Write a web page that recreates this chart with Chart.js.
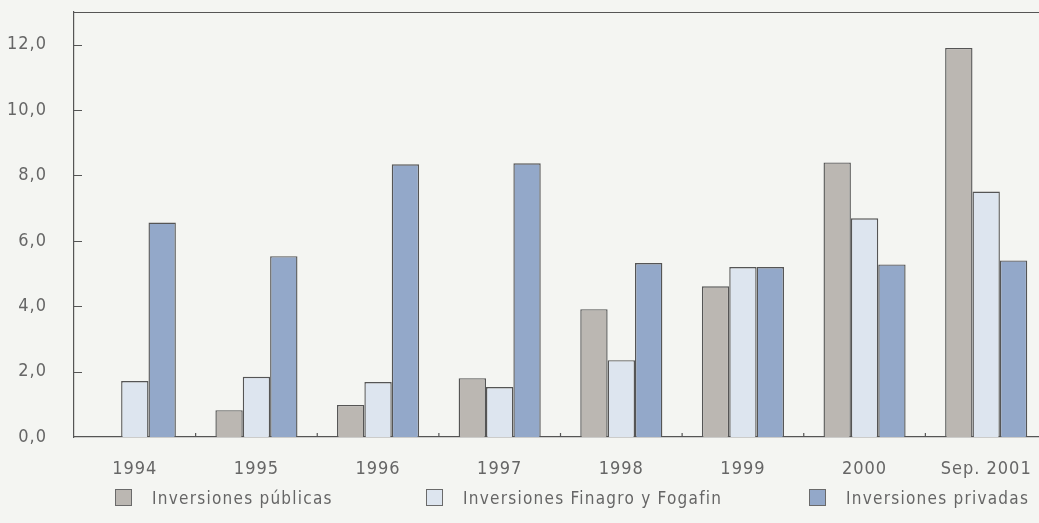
<!DOCTYPE html>
<html lang="es">

<head>
  <meta charset="UTF-8">
  <title>Inversiones</title>
  <script src="https://cdn.jsdelivr.net/npm/chart.js"></script>
  <style>
    body {
      margin: 0;
      background-color: #f4f5f2;
      overflow: hidden;
    }

    .chart-container {
      position: relative;
      width: 1047px;
      height: 523px;
    }

    /* leyenda hecha a mano, abajo */
    .legend-item {
      position: absolute;
      top: 488px;
      font-family: "DejaVu Sans Condensed", "DejaVu Sans", sans-serif;
      font-size: 17px;
      letter-spacing: 1.25px;
      color: #666;
      white-space: nowrap;
    }

    .legend-box {
      display: inline-block;
      width: 15px;
      height: 15px;
      border: 1px solid #6a6a6a;
      vertical-align: -2px;
      margin-right: 20px;
    }
  </style>
</head>

<body>
  <div class="chart-container">
    <canvas id="invChart" width="1047" height="523"></canvas>
    <div class="legend-item" style="left:115px"><span class="legend-box" id="lb0"></span><span id="lt0"></span></div>
    <div class="legend-item" style="left:426px"><span class="legend-box" id="lb1"></span><span id="lt1"></span></div>
    <div class="legend-item" style="left:809px"><span class="legend-box" id="lb2"></span><span id="lt2"></span></div>
  </div>

  <script>
    const categorias = ['1994', '1995', '1996', '1997', '1998', '1999', '2000', 'Sep. 2001'];
    const nombresSeries = ['Inversiones públicas', 'Inversiones Finagro y Fogafin', 'Inversiones privadas'];
    const publicas = [0, 0.82, 0.98, 1.80, 3.91, 4.61, 8.40, 11.90];
    const finagro = [1.71, 1.84, 1.68, 1.53, 2.35, 5.20, 6.69, 7.51];
    const privadas = [6.56, 5.53, 8.34, 8.37, 5.32, 5.20, 5.28, 5.40];
    const ticksY = [0, 2, 4, 6, 8, 10, 12];
    const coloresSeries = ['#bbb7b2', '#dde5ef', '#93a8c9'];

    const fuente = '"DejaVu Sans Condensed", "DejaVu Sans", sans-serif';
    const colorTexto = '#666666';
    const colorEje = '#555555';

    // leyenda
    nombresSeries.forEach((n, i) => {
      document.getElementById('lb' + i).style.backgroundColor = coloresSeries[i];
      document.getElementById('lt' + i).textContent = n;
    });

    // marcas cortas hacia adentro + linea superior
    const marcasPlugin = {
      id: 'marcas',
      beforeDraw(chart) {
        chart.ctx.letterSpacing = '1px';
      },
      afterDraw(chart) {
        const c = chart.ctx;
        const x = chart.scales.x;
        const y = chart.scales.y;
        c.save();
        c.strokeStyle = colorEje;
        c.lineWidth = 1.2;
        c.beginPath();
        ticksY.forEach(v => {
          if (v === 0) return;
          const py = Math.round(y.getPixelForValue(v)) + 0.5;
          c.moveTo(x.left, py);
          c.lineTo(x.left + 8, py);
        });
        for (let i = 1; i < categorias.length; i++) {
          const px = (x.getPixelForValue(i - 1) + x.getPixelForValue(i)) / 2;
          c.moveTo(px, y.bottom);
          c.lineTo(px, y.bottom - 4);
        }
        // linea de arriba
        const top = Math.round(y.getPixelForValue(13)) + 0.5;
        c.moveTo(x.left, top);
        c.lineTo(chart.width, top);
        c.stroke();
        c.restore();
      }
    };

    const ctx = document.getElementById('invChart').getContext('2d');
    const invChart = new Chart(ctx, {
      type: 'bar',
      data: {
        labels: categorias,
        datasets: [publicas, finagro, privadas].map((d, i) => ({
          label: nombresSeries[i],
          data: d,
          backgroundColor: coloresSeries[i],
          borderColor: '#555555',
          borderWidth: 1.4,
          borderSkipped: 'bottom',
          barPercentage: 1.0,
          categoryPercentage: 0.675
        }))
      },
      options: {
        responsive: false,
        animation: false,
        layout: {
          padding: { top: 12, right: 0, bottom: 0, left: 0 }
        },
        plugins: {
          legend: { display: false },
          tooltip: { enabled: false }
        },
        scales: {
          x: {
            grid: { display: false, drawTicks: false },
            border: { display: true, color: colorEje, width: 1.2 },
            ticks: {
              color: colorTexto,
              padding: 22,
              font: { family: fuente, size: 18 }
            },
            afterFit(scale) {
              scale.height = 86;
              scale.paddingLeft = 0;
              scale.paddingRight = 0;
            }
          },
          y: {
            min: 0,
            max: 13,
            grid: { display: false, drawTicks: false },
            border: { display: true, color: colorEje, width: 1.2 },
            afterBuildTicks(scale) {
              scale.ticks = ticksY.map(v => ({ value: v }));
            },
            ticks: {
              color: colorTexto,
              padding: 27,
              font: { family: fuente, size: 18 },
              callback: v => v.toFixed(1).replace('.', ',')
            },
            afterFit(scale) {
              scale.width = 74;
              scale.paddingTop = 0;
              scale.paddingBottom = 0;
            }
          }
        }
      },
      plugins: [marcasPlugin]
    });
  </script>
</body>

</html>
